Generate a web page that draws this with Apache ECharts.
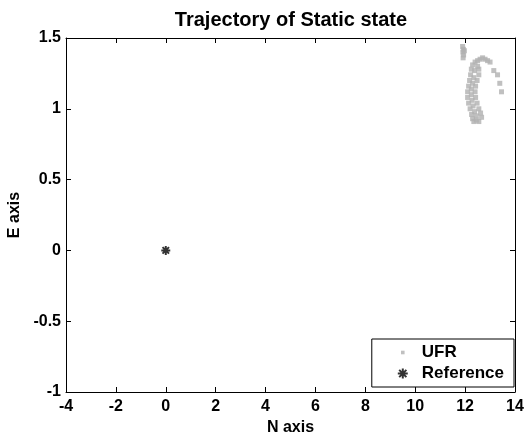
<!DOCTYPE html>
<html>
<head>
<meta charset="utf-8">
<script src="https://cdn.jsdelivr.net/npm/echarts@6/dist/echarts.min.js"></script>
<style>
  html, body { margin: 0; padding: 0; background: #fff; }
  #main { width: 526px; height: 437px; }
</style>
</head>
<body>
<div id="main"></div>
<script>
// UFR trajectory points [N, E]
var ufrN = [11.90, 11.93, 11.91, 11.94, 11.92, 11.97,
  12.30, 12.40, 12.50, 12.60, 12.70, 12.80, 12.90, 13.00, 13.15, 13.30, 13.39, 13.46,
  12.25, 12.22, 12.18, 12.14, 12.10, 12.10, 12.14, 12.20, 12.26, 12.30, 12.35,
  12.50, 12.55, 12.55, 12.48, 12.42, 12.40, 12.42, 12.48, 12.55, 12.62, 12.66, 12.55,
  12.38, 12.35, 12.30, 12.25, 12.25, 12.28, 12.32, 12.38, 12.45, 12.45];
var ufrE = [1.44, 1.42, 1.40, 1.38, 1.36, 1.41,
  1.31, 1.33, 1.34, 1.35, 1.36, 1.35, 1.34, 1.33, 1.27, 1.24, 1.18, 1.12,
  1.28, 1.24, 1.20, 1.16, 1.12, 1.08, 1.04, 1.00, 0.96, 0.93, 0.91,
  1.30, 1.28, 1.24, 1.20, 1.16, 1.12, 1.08, 1.04, 1.00, 0.97, 0.94, 0.91,
  1.27, 1.22, 1.18, 1.14, 1.10, 1.06, 1.02, 0.98, 0.95, 0.92];
var refN = [0];
var refE = [0];

var xTicks = [-4, -2, 0, 2, 4, 6, 8, 10, 12, 14];
var yTicks = [-1, -0.5, 0, 0.5, 1, 1.5];

function pairs(a, b) {
  var out = [];
  for (var i = 0; i < a.length; i++) out.push([a[i], b[i]]);
  return out;
}

var font = 'Liberation Sans, Arial, sans-serif';
var myChart = echarts.init(document.getElementById('main'));

var baseX = {
  type: 'value', min: xTicks[0], max: xTicks[xTicks.length - 1], interval: 2,
  axisLine: { onZero: false, lineStyle: { color: '#000', width: 1 } },
  axisTick: { inside: true, length: 5, lineStyle: { color: '#000' } },
  splitLine: { show: false }
};
var baseY = {
  type: 'value', min: yTicks[0], max: yTicks[yTicks.length - 1], interval: 0.5,
  axisLine: { onZero: false, lineStyle: { color: '#000', width: 1 } },
  axisTick: { inside: true, length: 5, lineStyle: { color: '#000' } },
  splitLine: { show: false }
};

var asterisk = 'path://M0,-5L0,5M-5,0L5,0M-3.6,-3.6L3.6,3.6M-3.6,3.6L3.6,-3.6';

var option = {
  backgroundColor: '#fff',
  animation: false,
  title: {
    text: 'Trajectory of Static state',
    left: 286, top: 5, textAlign: 'center',
    textStyle: { fontFamily: font, fontSize: 20, fontWeight: 'bold', color: '#000' }
  },
  grid: { left: 66, right: 11, top: 38, bottom: 45, containLabel: false, outerBoundsMode: 'none' },
  xAxis: [
    Object.assign({}, baseX, {
      position: 'bottom',
      name: 'N axis', nameLocation: 'middle', nameGap: 23,
      nameTextStyle: { fontFamily: font, fontSize: 16, fontWeight: 'bold', color: '#000' },
      axisLabel: { fontFamily: font, fontSize: 16, fontWeight: 'bold', color: '#000', margin: 7 }
    }),
    Object.assign({}, baseX, { position: 'top', axisLabel: { show: false } })
  ],
  yAxis: [
    Object.assign({}, baseY, {
      position: 'left',
      name: 'E axis', nameLocation: 'middle', nameGap: 40,
      nameTextStyle: { fontFamily: font, fontSize: 16, fontWeight: 'bold', color: '#000' },
      axisLabel: { fontFamily: font, fontSize: 16, fontWeight: 'bold', color: '#000', margin: 5 }
    }),
    Object.assign({}, baseY, { position: 'right', axisLabel: { show: false } })
  ],
  legend: {
    orient: 'vertical',
    right: 12, bottom: 50,
    backgroundColor: '#fff',
    borderColor: '#000', borderWidth: 1, borderRadius: 0,
    padding: [5, 10, 5, 24],
    itemGap: 4,
    itemWidth: 12, itemHeight: 16,
    textStyle: { fontFamily: font, fontSize: 17, fontWeight: 'bold', color: '#000', padding: [0, 0, 0, 8] },
    data: [
      { name: 'UFR', icon: 'path://M0,0M10,10M3.5,3.5L6.5,3.5L6.5,6.5L3.5,6.5Z' },
      { name: 'Reference', icon: 'path://M-6,-6M6,6M0,-5L0,5M-5,0L5,0M-3.6,-3.6L3.6,3.6M-3.6,3.6L3.6,-3.6' }
    ]
  },
  series: [
    {
      name: 'UFR', type: 'scatter',
      symbol: 'rect', symbolSize: 5,
      itemStyle: { color: '#b0b0b0' },
      data: pairs(ufrN, ufrE)
    },
    {
      name: 'Reference', type: 'scatter',
      symbol: asterisk,
      symbolSize: 9,
      itemStyle: { color: '#000', borderColor: '#000', borderWidth: 2 },
      data: pairs(refN, refE)
    }
  ]
};

myChart.setOption(option);
</script>
</body>
</html>
